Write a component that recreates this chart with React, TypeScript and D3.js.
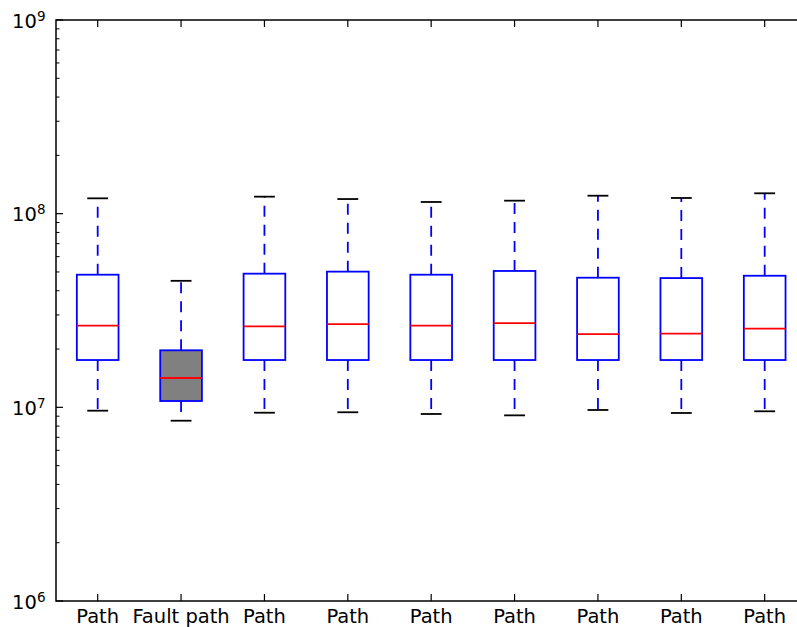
import React from 'react';
import * as d3 from 'd3';

// box plot stats (log scale)
const labels = ['Path', 'Fault path', 'Path', 'Path', 'Path', 'Path', 'Path', 'Path', 'Path'];
const whiskerLow = [9.61e6, 8.53e6, 9.38e6, 9.43e6, 9.24e6, 9.09e6, 9.69e6, 9.35e6, 9.54e6];
const q1 = [1.755e7, 1.078e7, 1.755e7, 1.755e7, 1.755e7, 1.755e7, 1.755e7, 1.755e7, 1.755e7];
const medians = [2.64e7, 1.417e7, 2.62e7, 2.69e7, 2.64e7, 2.72e7, 2.39e7, 2.4e7, 2.55e7];
const q3 = [4.84e7, 1.97e7, 4.9e7, 5.02e7, 4.84e7, 5.06e7, 4.67e7, 4.65e7, 4.78e7];
const whiskerHigh = [1.2e8, 4.5e7, 1.224e8, 1.19e8, 1.149e8, 1.167e8, 1.238e8, 1.205e8, 1.274e8];
const fillColors = ['white', 'gray', 'white', 'white', 'white', 'white', 'white', 'white', 'white'];
const decades = [6, 7, 8, 9];

const App = () => {
  const W = 797, H = 627;
  const margin = {left: 56, top: 20, bottom: 601};
  const step = 83.375;
  const right = margin.left + 9 * step;

  const x = d3.scaleLinear().domain([0.5, 9.5]).range([margin.left, right]);
  const y = d3.scaleLog().domain([1e6, 1e9]).range([margin.bottom, margin.top]);

  const minor: number[] = [];
  decades.slice(0, 3).forEach(e => {
    d3.range(2, 10).forEach(m => minor.push(m * Math.pow(10, e)));
  });

  const boxHalf = x(0.25) - x(0);
  const capHalf = x(0.125) - x(0);
  const font = 'DejaVu Sans, sans-serif';
  const lw = 1.8;

  return (
    <svg width={W} height={H} style={{position: 'absolute', left: 0, top: 0, background: 'white'}}>
      <rect x={0} y={0} width={W} height={H} fill="white" />

      {labels.map((lab, i) => {
        const cx = x(i + 1);
        return (
          <g key={i}>
            {/* whiskers */}
            <line x1={cx} x2={cx} y1={y(q3[i])} y2={y(whiskerHigh[i])}
              stroke="#0000ff" strokeWidth={lw} strokeDasharray="11,8" />
            <line x1={cx} x2={cx} y1={y(q1[i])} y2={y(whiskerLow[i])}
              stroke="#0000ff" strokeWidth={lw} strokeDasharray="11,8" />
            {/* caps */}
            <line x1={cx - capHalf} x2={cx + capHalf} y1={y(whiskerHigh[i])} y2={y(whiskerHigh[i])}
              stroke="black" strokeWidth={lw} />
            <line x1={cx - capHalf} x2={cx + capHalf} y1={y(whiskerLow[i])} y2={y(whiskerLow[i])}
              stroke="black" strokeWidth={lw} />
            {/* box */}
            <rect x={cx - boxHalf} y={y(q3[i])} width={boxHalf * 2} height={y(q1[i]) - y(q3[i])}
              fill={fillColors[i]} stroke="#0000ff" strokeWidth={lw} />
            {/* median */}
            <line x1={cx - boxHalf} x2={cx + boxHalf} y1={y(medians[i])} y2={y(medians[i])}
              stroke="#ff0000" strokeWidth={lw} />
          </g>
        );
      })}

      {/* spines */}
      <rect x={margin.left} y={margin.top} width={right - margin.left} height={margin.bottom - margin.top}
        fill="none" stroke="black" strokeWidth={1.5} />

      {/* y ticks */}
      {decades.map(e => (
        <g key={'d' + e}>
          <line x1={margin.left} x2={margin.left + 7} y1={y(Math.pow(10, e))} y2={y(Math.pow(10, e))}
            stroke="black" strokeWidth={1.2} />
          <text x={45.5} y={y(Math.pow(10, e)) + 7.5} textAnchor="end" fontFamily={font} fontSize={19.5}>
            10<tspan fontSize={13.5} dy={-7}>{e}</tspan>
          </text>
        </g>
      ))}
      {minor.map((v, i) => (
        <line key={'m' + i} x1={margin.left} x2={margin.left + 3.5} y1={y(v)} y2={y(v)}
          stroke="black" strokeWidth={1} />
      ))}

      {/* x ticks */}
      {labels.map((lab, i) => (
        <g key={'x' + i}>
          <line x1={x(i + 1)} x2={x(i + 1)} y1={margin.bottom} y2={margin.bottom - 7} stroke="black" strokeWidth={1.2} />
          <line x1={x(i + 1)} x2={x(i + 1)} y1={margin.top} y2={margin.top + 7} stroke="black" strokeWidth={1.2} />
          <text x={x(i + 1)} y={623} textAnchor="middle" fontFamily={font} fontSize={19.5}>{lab}</text>
        </g>
      ))}
    </svg>
  );
};

export default App;
